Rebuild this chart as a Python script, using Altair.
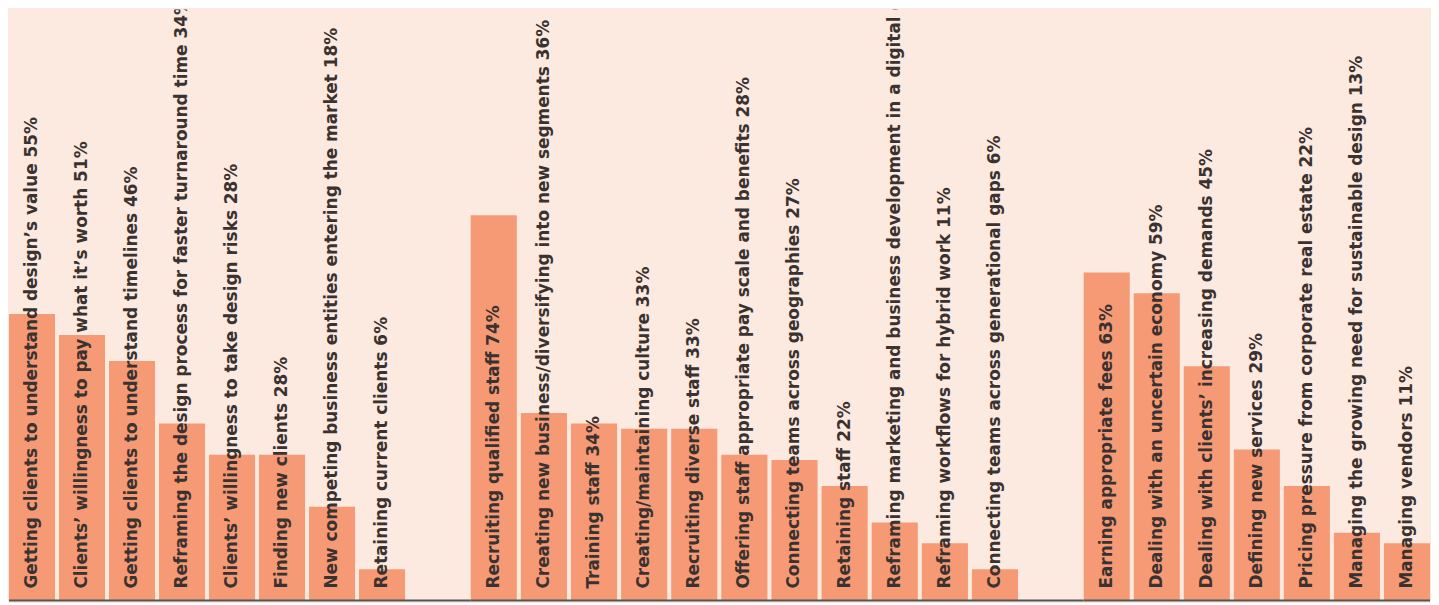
import altair as alt
import pandas as pd

# Group 1: client-related challenges
g1_labels = [
    "Getting clients to understand design’s value",
    "Clients’ willingness to pay what it’s worth",
    "Getting clients to understand timelines",
    "Reframing the design process for faster turnaround time",
    "Clients’ willingness to take design risks",
    "Finding new clients",
    "New competing business entities entering the market",
    "Retaining current clients",
]
g1_values = [55, 51, 46, 34, 28, 28, 18, 6]

# Group 2: staff / business challenges
g2_labels = [
    "Recruiting qualified staff",
    "Creating new business/diversifying into new segments",
    "Training staff",
    "Creating/maintaining culture",
    "Recruiting diverse staff",
    "Offering staff appropriate pay scale and benefits",
    "Connecting teams across geographies",
    "Retaining staff",
    "Reframing marketing and business development in a digital era",
    "Reframing workflows for hybrid work",
    "Connecting teams across generational gaps",
]
g2_values = [74, 36, 34, 33, 33, 28, 27, 22, 15, 11, 6]

# Group 3: economic challenges
g3_labels = [
    "Earning appropriate fees",
    "Dealing with an uncertain economy",
    "Dealing with clients’ increasing demands",
    "Defining new services",
    "Pricing pressure from corporate real estate",
    "Managing the growing need for sustainable design",
    "Managing vendors",
]
g3_values = [63, 59, 45, 29, 22, 13, 11]

BG = "#fce9df"
BAR = "#f59a74"
TXT = "#3a3230"
H = 594
YMAX = 113.5
GAP = 66


def panel(labels, values, width, extend):
    df = pd.DataFrame({"label": labels, "value": values})
    df["text"] = df["label"] + " " + df["value"].astype(str) + "%"
    x = alt.X("label:N", sort=None, axis=None,
              scale=alt.Scale(paddingInner=0.08, paddingOuter=0))
    y = alt.Y("value:Q", axis=None,
              scale=alt.Scale(domain=[0, YMAX], nice=False, zero=True))
    base = alt.Chart(df)
    bars = base.mark_bar(color=BAR).encode(x=x, y=y)
    text = base.mark_text(
        angle=270, align="left", baseline="middle", dx=12,
        font="DejaVu Sans", fontSize=17, fontWeight="bold",
        color=TXT, clip=True,
    ).encode(x=x, y=alt.datum(0), text="text:N")
    rule = alt.Chart(pd.DataFrame({"k": [0]})).mark_rule(
        color="#555555", strokeWidth=2
    ).encode(x=alt.value(0), x2=alt.value(width + extend), y=alt.value(H))
    return alt.layer(bars, text, rule).properties(width=width, height=H)


p1 = panel(g1_labels, g1_values, 398, GAP)
p2 = panel(g2_labels, g2_values, 550, GAP)
p3 = panel(g3_labels, g3_values, 348, 0)

chart = alt.hconcat(p1, p2, p3, spacing=GAP, bounds="flush",
                    background=BG, padding=0).configure_view(stroke=None)

chart.save("out.html", embed_options={"renderer": "svg", "actions": False})
